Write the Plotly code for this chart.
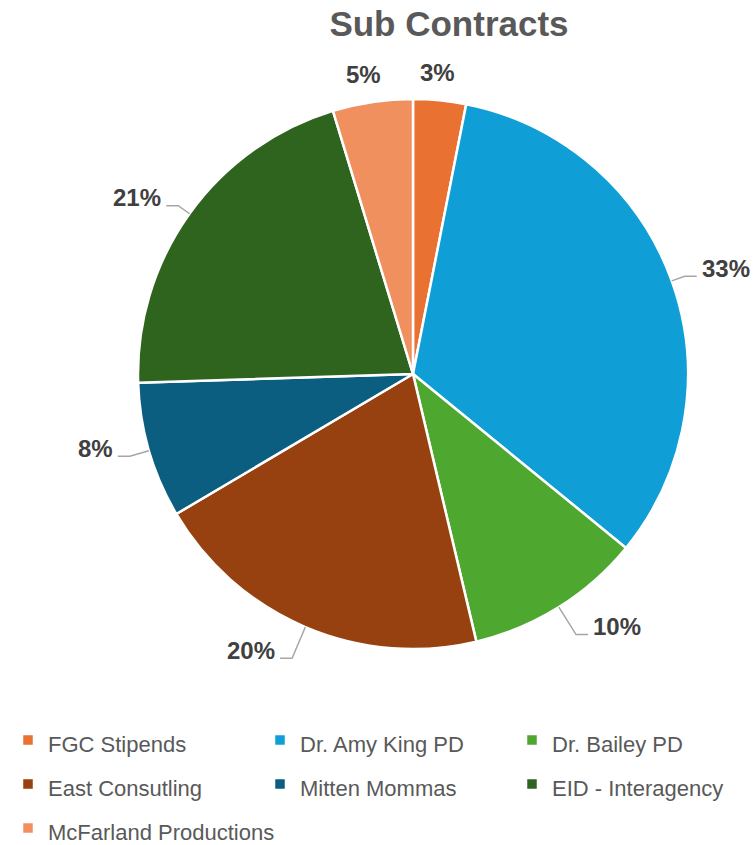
import math
import plotly.graph_objects as go

categories = ["FGC Stipends", "Dr. Amy King PD", "Dr. Bailey PD", "East Consutling",
              "Mitten Mommas", "EID - Interagency", "McFarland Productions"]
values = [3.1, 32.8, 10.4, 20.2, 8.0, 20.8, 4.7]
colors = ["#E97132", "#0F9ED5", "#4EA72E", "#974110", "#0B5E80", "#2F641F", "#F0905E"]

W, H = 756, 845
CX, CY, R = 413, 374, 275  # pie centre / radius in pixels

LEGEND_TEXT = 22
fig = go.Figure(go.Pie(
    labels=[f"<span style='font-size:{LEGEND_TEXT}px'>{c}</span>" for c in categories],
    values=values, sort=False, direction="clockwise", rotation=0,
    marker=dict(colors=colors, line=dict(color="white", width=2.5)),
    textinfo="none", hoverinfo="label+percent",
    domain=dict(x=[(CX - R) / W, (CX + R) / W], y=[1 - (CY + R) / H, 1 - (CY - R) / H]),
))

def px(x):
    return x / W

def py(y):
    return 1 - y / H

LABEL_FONT = dict(size=24, color="#404040", family="Liberation Sans")
total = sum(values)
cum = 0
annotations = []
shapes = []
for v in values:
    frac = v / total
    mid = (cum + frac / 2) * 2 * math.pi
    cum += frac
    s, c = math.sin(mid), -math.cos(mid)
    pct = f"{round(frac * 100)}%"
    if abs(s) > 0.3:
        k = 1.05 + 0.08 * max(0.0, c)
        x0, y0 = CX + R * s, CY + R * c
        x1, y1 = CX + R * k * s, CY + R * k * c
        d = 1 if s > 0 else -1
        x2 = x1 + 12 * d
        shapes.append(dict(type="path", xref="paper", yref="paper",
                           path=f"M {px(x0)},{py(y0)} L {px(x1)},{py(y1)} L {px(x2)},{py(y1)}",
                           line=dict(color="#A6A6A6", width=1.5)))
        annotations.append(dict(x=px(x2 + 3 * d), y=py(y1 - 8), xref="paper", yref="paper",
                                text=f"<b>{pct}</b>", showarrow=False,
                                xanchor="left" if d > 0 else "right", yanchor="middle",
                                font=LABEL_FONT))
    else:
        k = 1.1
        x1, y1 = CX + R * k * s, CY + R * k * c
        annotations.append(dict(x=px(x1 - 5), y=py(y1), xref="paper", yref="paper",
                                text=f"<b>{pct}</b>", showarrow=False,
                                xanchor="center", yanchor="middle",
                                font=LABEL_FONT))

fig.update_layout(
    width=W, height=H,
    margin=dict(l=0, r=0, t=0, b=0, autoexpand=False),
    paper_bgcolor="white", plot_bgcolor="white",
    title=dict(text="<b>Sub Contracts</b>", x=449 / W, xanchor="center",
               y=1 - 24 / H, yanchor="middle", yref="container",
               font=dict(size=35, color="#595959", family="Liberation Sans")),
    showlegend=True,
    legend=dict(orientation="h", x=8 / W, xanchor="left", y=1 - 713 / H, yanchor="top",
                entrywidth=1 / 3, entrywidthmode="fraction",
                font=dict(size=31.5, color="#595959", family="Liberation Sans")),
    annotations=annotations, shapes=shapes,
)

fig.write_html("out.html", config={"displayModeBar": False},
               post_script="document.body.style.margin='0';")
